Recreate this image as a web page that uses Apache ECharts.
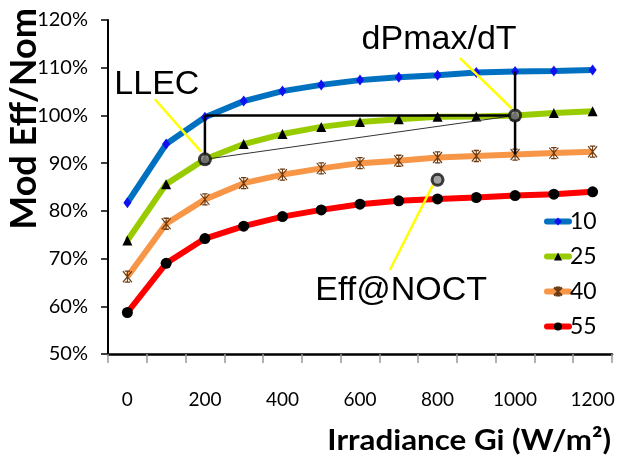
<!DOCTYPE html>
<html><head><meta charset="utf-8">
<script src="https://cdn.jsdelivr.net/npm/echarts@6/dist/echarts.min.js"></script>
<style>html,body{margin:0;padding:0;background:#fff}#c{width:618px;height:464px}</style>
</head><body><div id="c"></div>
<script>
var irradiance = ['0','100','200','300','400','500','600','700','800','900','1000','1100','1200'];
var t10 = [81.7, 94.0, 99.6, 103.0, 105.1, 106.4, 107.4, 108.0, 108.4, 109.0, 109.2, 109.3, 109.5];
var t25 = [73.8, 85.6, 90.8, 94.0, 96.1, 97.6, 98.6, 99.2, 99.7, 99.8, 100.0, 100.5, 100.9];
var t40 = [66.2, 77.3, 82.4, 85.8, 87.6, 88.9, 90.0, 90.5, 91.2, 91.5, 91.8, 92.1, 92.4];
var t55 = [58.7, 69.0, 74.2, 76.8, 78.8, 80.2, 81.4, 82.1, 82.5, 82.8, 83.2, 83.5, 84.0];
var seriesNames = ['10','25','40','55'];
// annotation geometry: box/circles use category index on x, leaders/labels use irradiance (hidden value axis)
var boxTop = [[2, 100], [10, 100]];
var boxLeft = [[2, 100], [2, 90.8]];
var boxRight = [[10, 109.2], [10, 91.8]];
var thinLine = [[2, 90.8], [10, 100]];
var circles = [[2, 90.8], [10, 100], [8, 86.5]];
var leaderLLEC = [[71, 103.4], [190, 92.4]];
var leaderDP = [[858, 112.0], [992, 101.4]];
var leaderNOCT = [[788, 85.4], [677, 67.6]];
var labelLLEC = [76, 106.4];
var labelDP = [804, 115.8];
var labelNOCT = [706, 63.2];

var FONT = 'Lato';
var chart = echarts.init(document.getElementById('c'), null, {renderer: 'canvas'});
function seg(axis, data, color, width, zi) {
  return {type: 'line', xAxisIndex: axis, data: data, symbol: 'none', silent: true,
    lineStyle: {color: color, width: width}, z: zi || 5};
}
function textPt(pt, txt) {
  return {type: 'scatter', xAxisIndex: 1, data: [pt], symbolSize: 1, silent: true,
    itemStyle: {color: 'rgba(0,0,0,0)'}, z: 10,
    label: {show: true, position: 'inside', formatter: txt, fontFamily: 'Liberation Sans',
      fontSize: 34, color: '#000', textBorderWidth: 0, opacity: 1}};
}
var starPath = 'path://M0,0L10,12M10,0L0,12M5,0L5,12M2,0L8,0M2,12L8,12';
chart.setOption({
  animation: false,
  grid: {left: 108, right: 6, top: 20, bottom: 110, containLabel: false},
  legend: {
    orient: 'vertical', left: 539, top: 205, itemGap: 12, itemWidth: 22, itemHeight: 10,
    data: seriesNames,
    lineStyle: {width: 6, cap: 'round'},
    textStyle: {fontFamily: FONT, fontSize: 23, color: '#000', padding: [0, 0, 0, -4]}
  },
  xAxis: [{
    type: 'category', data: irradiance, boundaryGap: true,
    axisLine: {onZero: false, lineStyle: {color: '#000', width: 2.5}},
    axisTick: {show: true, interval: 0, length: 9, lineStyle: {color: '#999', width: 1.5}},
    axisLabel: {interval: 1, margin: 36, fontFamily: FONT, fontSize: 19, color: '#000'},
    splitLine: {show: false}
  }, {
    type: 'value', min: -50, max: 1250, show: false
  }],
  yAxis: {
    type: 'value', min: 50, max: 120, interval: 10,
    axisLine: {show: true, onZero: false, lineStyle: {color: '#000', width: 2}},
    axisTick: {show: true, length: 7, lineStyle: {color: '#000', width: 1.5}},
    axisLabel: {formatter: '{value}%', margin: 20, fontFamily: FONT, fontSize: 20, color: '#000'},
    splitLine: {show: false}
  },
  graphic: [
    {type: 'text', x: 24, y: 119, rotation: Math.PI / 2,
      style: {text: 'Mod Eff/Nom', font: 'bold 36px Lato', fill: '#000', align: 'center', verticalAlign: 'middle'}},
    {type: 'text', x: 611, y: 441, scaleX: 1.08,
      style: {text: 'Irradiance Gi (W/m\u00B2)', font: 'bold 29px Lato', fill: '#000',
        align: 'right', verticalAlign: 'middle'}}
  ],
  series: [
    {name: '10', type: 'line', data: t10, symbol: 'diamond', symbolSize: [8, 11], z: 3,
      lineStyle: {color: '#0070C0', width: 6}, itemStyle: {color: '#1010F0'}},
    {name: '25', type: 'line', data: t25, symbol: 'triangle', symbolSize: 10, z: 3,
      lineStyle: {color: '#99CC00', width: 6}, itemStyle: {color: '#000'}},
    {name: '40', type: 'line', data: t40, symbol: starPath, symbolSize: [9, 11], z: 3,
      lineStyle: {color: '#F79646', width: 6}, itemStyle: {color: 'rgba(0,0,0,0)', borderColor: '#6B3A10', borderWidth: 1.2}},
    {name: '55', type: 'line', data: t55, symbol: 'circle', symbolSize: 11, z: 3,
      lineStyle: {color: '#FF0000', width: 6}, itemStyle: {color: '#000'}},
    seg(0, thinLine, '#333', 1),
    seg(0, boxTop, '#000', 2.5),
    seg(0, boxLeft, '#000', 2.5),
    seg(0, boxRight, '#000', 2.5),
    seg(1, leaderLLEC, '#FFFF00', 2.5),
    seg(1, leaderDP, '#FFFF00', 2.5),
    seg(1, leaderNOCT, '#FFFF00', 2.5),
    {type: 'scatter', xAxisIndex: 0, data: circles, symbol: 'circle', symbolSize: 11, z: 8, silent: true,
      itemStyle: {color: '#8A8A8A', borderColor: '#111', borderWidth: 3}},
    textPt(labelLLEC, 'LLEC'),
    textPt(labelDP, 'dPmax/dT'),
    textPt(labelNOCT, 'Eff@NOCT')
  ]
});
</script></body></html>
